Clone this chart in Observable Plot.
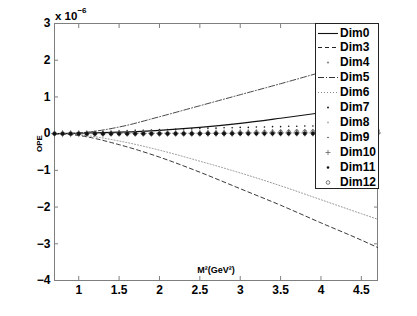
<!DOCTYPE html>
<html>
<head>
<meta charset="utf-8">
<script src="https://cdn.jsdelivr.net/npm/d3@7"></script>
<script src="https://cdn.jsdelivr.net/npm/@observablehq/plot@0.6"></script>
<style>
  html, body { margin: 0; padding: 0; background: #fff; }
  #wrap { position: relative; width: 417px; height: 316px; font-family: "Liberation Sans", Arial, sans-serif; font-weight: bold; }
  #exp { position: absolute; left: 55px; top: 8px; font-size: 11.5px; color: #000; }
  #exp sup { font-size: 8px; position: relative; top: -2px; }
  #legend { position: absolute; left: 315px; top: 23px; width: 62px; height: 164px; background: #fff; border: 1px solid #222; box-sizing: content-box; }
  .row { position: absolute; left: 0; height: 15px; width: 62px; }
  .row svg { position: absolute; left: 1px; top: 0; }
  .row span { position: absolute; left: 24px; top: 1px; font-size: 12px; line-height: 13px; color: #000; }
</style>
</head>
<body>
<div id="wrap">
  <div id="chart"></div>
  <div id="exp">x 10<sup>−6</sup></div>
  <div id="legend"></div>
</div>
<script>
// ---- data (values in units of 1e-6) ----
const lineM2 = [0.7, 1.0, 1.5, 2.0, 2.5, 3.0, 3.5, 4.0, 4.5, 4.7];
const dim0 = [0, 0.01, 0.04, 0.09, 0.17, 0.28, 0.42, 0.57, 0.73, 0.80];
const dim3 = [0, -0.05, -0.30, -0.64, -1.05, -1.50, -1.95, -2.43, -2.90, -3.10];
const dim5 = [0, 0.02, 0.18, 0.46, 0.76, 1.06, 1.36, 1.67, 1.98, 2.10];
const dim6 = [0, -0.03, -0.20, -0.45, -0.75, -1.07, -1.42, -1.80, -2.18, -2.33];

const markM2 = [0.7,0.8,0.9,1.0,1.1,1.2,1.3,1.4,1.5,1.6,1.7,1.8,1.9,2.0,2.1,2.2,2.3,2.4,2.5,2.6,2.7,2.8,2.9,3.0,3.1,3.2,3.3,3.4,3.5,3.6,3.7,3.8,3.9,4.0,4.1,4.2,4.3,4.4,4.5,4.6,4.7];
const dim4  = [0,0,0,0.01,0.01,0.01,0.01,0.01,0.02,0.02,0.02,0.02,0.02,0.02,0.02,0.02,0.03,0.03,0.03,0.03,0.03,0.03,0.03,0.03,0.03,0.03,0.03,0.04,0.04,0.04,0.04,0.04,0.04,0.04,0.04,0.04,0.04,0.04,0.04,0.04,0.04];
const dim7  = [0,0,0.01,0.02,0.03,0.04,0.05,0.06,0.07,0.08,0.09,0.09,0.10,0.11,0.11,0.12,0.13,0.13,0.14,0.15,0.15,0.16,0.16,0.17,0.17,0.18,0.18,0.19,0.19,0.20,0.20,0.21,0.21,0.22,0.22,0.22,0.23,0.23,0.24,0.24,0.25];
const dim8  = [0,0,0.01,0.01,0.02,0.02,0.03,0.03,0.04,0.04,0.05,0.05,0.05,0.06,0.06,0.06,0.07,0.07,0.07,0.08,0.08,0.08,0.08,0.09,0.09,0.09,0.09,0.10,0.10,0.10,0.10,0.10,0.11,0.11,0.11,0.11,0.11,0.12,0.12,0.12,0.12];
const dim9  = [0,0,0,0,-0.01,-0.01,-0.01,-0.01,-0.01,-0.01,-0.01,-0.02,-0.02,-0.02,-0.02,-0.02,-0.02,-0.02,-0.02,-0.02,-0.02,-0.02,-0.02,-0.02,-0.02,-0.02,-0.02,-0.02,-0.02,-0.02,-0.02,-0.02,-0.02,-0.02,-0.02,-0.02,-0.02,-0.02,-0.02,-0.02,-0.02];
const dim10 = [0,0,0,0,0,0,0,0.01,0.01,0.01,0.01,0.01,0.01,0.01,0.01,0.01,0.01,0.01,0.01,0.01,0.01,0.01,0.01,0.02,0.02,0.02,0.02,0.02,0.02,0.02,0.02,0.02,0.02,0.02,0.02,0.02,0.02,0.02,0.02,0.02,0.02];
const dim11 = [0,0,0,0,0,0,0,0,0,0,0,0,0,0,0,0,0,0,0,0,0,0,0,0,0,0,0,0,0,0,0,0,0,0,0,0,0,0,0,0,0];
const dim12 = [0,0,0,0,0,0,0,0,0,0,0,0,0,0,0,0,0,0,0,0.01,0.01,0.01,0.01,0.02,0.02,0.03,0.03,0.03,0.04,0.04,0.05,0.05,0.05,0.06,0.06,0.06,0.07,0.07,0.07,0.08,0.08];

const xTicks = [1, 1.5, 2, 2.5, 3, 3.5, 4, 4.5];
const yTicks = [-4, -3, -2, -1, 0, 1, 2, 3];
const legendNames = ["Dim0","Dim3","Dim4","Dim5","Dim6","Dim7","Dim8","Dim9","Dim10","Dim11","Dim12"];

// ---- tables ----
const lineRows = (vals) => lineM2.map((m, i) => ({m, v: vals[i]}));
const markRows = (vals) => markM2.map((m, i) => ({m, v: vals[i]}));

const gray = "#7f7f7f";
const font = "Liberation Sans, Arial, sans-serif";
const fmt = d3.format("");

const chart = Plot.plot({
  width: 417,
  height: 316,
  marginLeft: 54,
  marginRight: 40,
  marginTop: 23,
  marginBottom: 36,
  style: {fontFamily: font, fontWeight: "bold", fontSize: "12px", color: "#000", background: "#fff"},
  x: {domain: [0.7, 4.7]},
  y: {domain: [-4, 3]},
  marks: [
    Plot.axisX({ticks: xTicks, tickFormat: fmt, tickSize: -4, tickPadding: 9, stroke: gray, label: null, fill: "#000", fontSize: 12}),
    Plot.axisX({anchor: "top", ticks: xTicks, tickSize: -4, tickFormat: () => "", stroke: gray, label: null}),
    Plot.axisY({ticks: yTicks, tickFormat: fmt, tickSize: -4, tickPadding: 8, stroke: gray, label: null, fill: "#000", fontSize: 12}),
    Plot.axisY({anchor: "right", ticks: yTicks, tickSize: -4, tickFormat: () => "", stroke: gray, label: null}),
    Plot.frame({stroke: gray}),
    Plot.line(lineRows(dim6), {x: "m", y: "v", stroke: "#888", strokeWidth: 0.9, strokeDasharray: "1,2", curve: "monotone-x"}),
    Plot.line(lineRows(dim3), {x: "m", y: "v", stroke: "#222", strokeWidth: 0.9, strokeDasharray: "4,3", curve: "monotone-x"}),
    Plot.line(lineRows(dim5), {x: "m", y: "v", stroke: "#333", strokeWidth: 0.9, strokeDasharray: "6,2,1,2", curve: "monotone-x"}),
    Plot.line(lineRows(dim0), {x: "m", y: "v", stroke: "#111", strokeWidth: 1.1, curve: "monotone-x"}),
    Plot.dot(markRows(dim4), {x: "m", y: "v", r: 1.1, fill: "#888", stroke: null}),
    Plot.dot(markRows(dim7), {x: "m", y: "v", r: 0.8, fill: "#111", stroke: null}),
    Plot.dot(markRows(dim8), {x: "m", y: "v", r: 0.9, fill: "#aaa", stroke: null}),
    Plot.dot(markRows(dim9), {x: "m", y: "v", r: 0.7, fill: "#222", stroke: null}),
    Plot.dot(markRows(dim10), {x: "m", y: "v", r: 2.4, symbol: "plus", stroke: "#666", strokeWidth: 0.8}),
    Plot.dot(markRows(dim12), {x: "m", y: "v", r: 1.9, symbol: "circle", stroke: "#555", fill: "none", strokeWidth: 0.8}),
    Plot.dot(markRows(dim11), {x: "m", y: "v", r: 1.6, symbol: "circle", fill: "#111", stroke: "#111", strokeWidth: 0.8}),
    Plot.text(["OPE"], {frameAnchor: "left", dx: -15, rotate: -90, fontSize: 8, fontWeight: "bold", fill: "#000"}),
    Plot.text(["M²(GeV²)"], {frameAnchor: "bottom", dy: -8, fontSize: 9, fontWeight: "bold", fill: "#000"})
  ]
});
document.getElementById("chart").appendChild(chart);

// ---- legend ----
const samples = {
  Dim0:  '<line x1="1" y1="7.5" x2="21" y2="7.5" stroke="#111" stroke-width="1.1"/>',
  Dim3:  '<line x1="1" y1="7.5" x2="21" y2="7.5" stroke="#222" stroke-dasharray="4,3"/>',
  Dim4:  '<circle cx="11" cy="7.5" r="1.1" fill="#888"/>',
  Dim5:  '<line x1="1" y1="7.5" x2="21" y2="7.5" stroke="#333" stroke-dasharray="6,2,1,2"/>',
  Dim6:  '<line x1="1" y1="7.5" x2="21" y2="7.5" stroke="#888" stroke-dasharray="1,2"/>',
  Dim7:  '<circle cx="11" cy="7.5" r="0.9" fill="#111"/>',
  Dim8:  '<circle cx="11" cy="7.5" r="0.9" fill="#aaa"/>',
  Dim9:  '<circle cx="11" cy="7.5" r="0.7" fill="#222"/>',
  Dim10: '<path d="M8.5,7.5H13.5M11,5V10" stroke="#666" stroke-width="0.8"/>',
  Dim11: '<circle cx="11" cy="7.5" r="1.3" fill="#111"/>',
  Dim12: '<circle cx="11" cy="7.5" r="1.8" fill="none" stroke="#555" stroke-width="0.8"/>'
};
const leg = document.getElementById("legend");
legendNames.forEach((name, i) => {
  const row = document.createElement("div");
  row.className = "row";
  row.style.top = (1.5 + i * 14.9) + "px";
  row.innerHTML = `<svg width="22" height="15">${samples[name]}</svg><span>${name}</span>`;
  leg.appendChild(row);
});
</script>
</body>
</html>
